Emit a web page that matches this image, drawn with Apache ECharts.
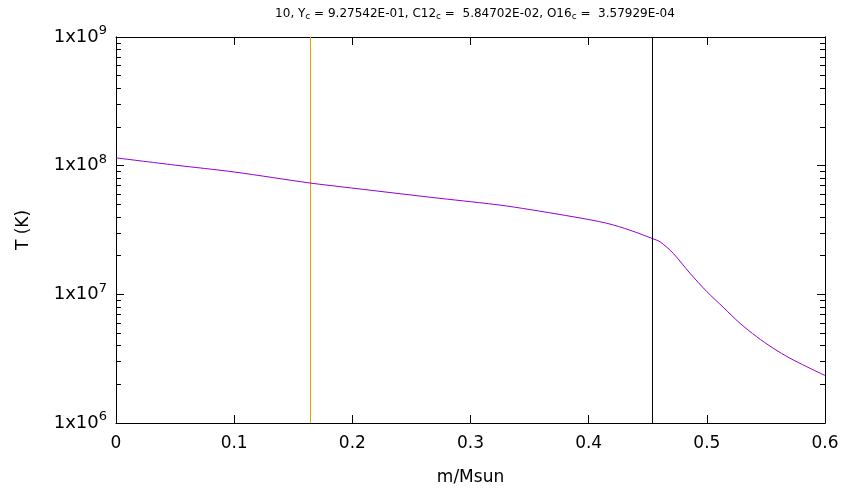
<!DOCTYPE html>
<html><head><meta charset="utf-8">
<script src="https://cdn.jsdelivr.net/npm/echarts@6/dist/echarts.min.js"></script>
<style>html,body{margin:0;padding:0;background:#fff}#c{width:847px;height:495px}</style>
</head><body><div id="c"></div>
<script>
const mass = [0, 0.05, 0.1, 0.1642, 0.1896, 0.2742, 0.3, 0.3306, 0.3867, 0.4152, 0.435, 0.4536, 0.4604, 0.4716, 0.4857, 0.5, 0.5139, 0.528, 0.5421, 0.5562, 0.5703, 0.5845, 0.6];
const temp = [1.15e8, 1.01e8, 8.93e7, 7.33e7, 6.87e7, 5.57e7, 5.25e7, 4.86e7, 4.01e7, 3.57e7, 3.15e7, 2.72e7, 2.56e7, 2.08e7, 1.46e7, 1.05e7, 7.93e6, 5.96e6, 4.69e6, 3.81e6, 3.19e6, 2.74e6, 2.34e6];
const xTicks = [0, 0.1, 0.2, 0.3, 0.4, 0.5, 0.6];
const yTicks = [1e6, 1e7, 1e8, 1e9];
const orangeLineX = 0.1646;
const blackLineX = 0.454;
const titleParts = ['10, Y', 'c', ' = 9.27542E-01, C12', 'c', ' =  5.84702E-02, O16', 'c', ' =  3.57929E-04'];

const FONT = 'DejaVu Sans';
const minorY = [];
for (let n = 6; n < 9; n++) for (let k = 2; k <= 9; k++) minorY.push(k * Math.pow(10, n));

const titleText = titleParts.map((t, i) => i % 2 ? '{s|' + t + '}' : '{n|' + t + '}').join('');

function yAxisDef(pos, major, showLabel) {
  return {
    type: 'log', logBase: 10, min: 1e6, max: 1e9, position: pos,
    axisLine: { show: true, onZero: false, lineStyle: { color: '#000', width: 1 } },
    axisTick: major ? { show: true, inside: true, length: 8, lineStyle: { color: '#000' }, customValues: yTicks }
                    : { show: true, inside: true, length: 5, lineStyle: { color: '#000' }, customValues: minorY },
    axisLabel: showLabel ? {
      show: true, customValues: yTicks, margin: 9,
      formatter: v => '{b|1x10}{s|' + Math.round(Math.log10(v)) + '}',
      rich: { b: { fontFamily: FONT, fontSize: 18, color: '#000' },
              s: { fontFamily: FONT, fontSize: 13, color: '#000', padding: [0, 0, 12, 0] } }
    } : { show: false },
    splitLine: { show: false },
    name: showLabel ? 'T (K)' : '', nameLocation: 'middle', nameGap: 84, nameRotate: 90,
    nameTextStyle: { fontFamily: FONT, fontSize: 17, color: '#000' }
  };
}

function vline(x, color) {
  return { type: 'line', xAxisIndex: 0, yAxisIndex: 0, showSymbol: false, silent: true,
           lineStyle: { color: color, width: 1 }, data: [[x, 1e6], [x, 1e9]] };
}

const chart = echarts.init(document.getElementById('c'), null, { renderer: 'canvas' });
chart.setOption({
  animation: false,
  backgroundColor: '#fff',
  title: {
    text: titleText, left: 470, top: 1, textAlign: 'center',
    textStyle: { fontWeight: 'normal', rich: { n: { fontFamily: FONT, fontSize: 12, fontWeight: 'normal', color: '#000' },
                         s: { fontFamily: FONT, fontSize: 9, fontWeight: 'normal', color: '#000', padding: [6, 0, 0, 0] } } }
  },
  grid: { left: 116, right: 22, top: 37, bottom: 72 },
  xAxis: [
    { type: 'value', min: 0, max: 0.6, interval: 0.1, position: 'bottom',
      axisLine: { show: true, onZero: false, lineStyle: { color: '#000' } },
      axisTick: { show: true, inside: true, length: 8, lineStyle: { color: '#000' } },
      axisLabel: { show: true, margin: 12, fontFamily: FONT, fontSize: 17, color: '#000',
                   customValues: xTicks, formatter: v => String(+v.toFixed(1)) },
      splitLine: { show: false },
      name: 'm/Msun', nameLocation: 'middle', nameGap: 46,
      nameTextStyle: { fontFamily: FONT, fontSize: 17, color: '#000' } },
    { type: 'value', min: 0, max: 0.6, interval: 0.1, position: 'top',
      axisLine: { show: true, onZero: false, lineStyle: { color: '#000' } },
      axisTick: { show: true, inside: true, length: 8, lineStyle: { color: '#000' } },
      axisLabel: { show: false }, splitLine: { show: false } }
  ],
  yAxis: [
    yAxisDef('left', true, true),
    yAxisDef('left', false, false),
    yAxisDef('right', true, false),
    yAxisDef('right', false, false)
  ],
  series: [
    vline(orangeLineX, '#e69f00'),
    { type: 'line', xAxisIndex: 0, yAxisIndex: 0, showSymbol: false, smooth: 0.3,
      lineStyle: { color: '#9400d3', width: 1 },
      data: mass.map((m, i) => [m, temp[i]]) },
    vline(blackLineX, '#000')
  ]
});
</script></body></html>
